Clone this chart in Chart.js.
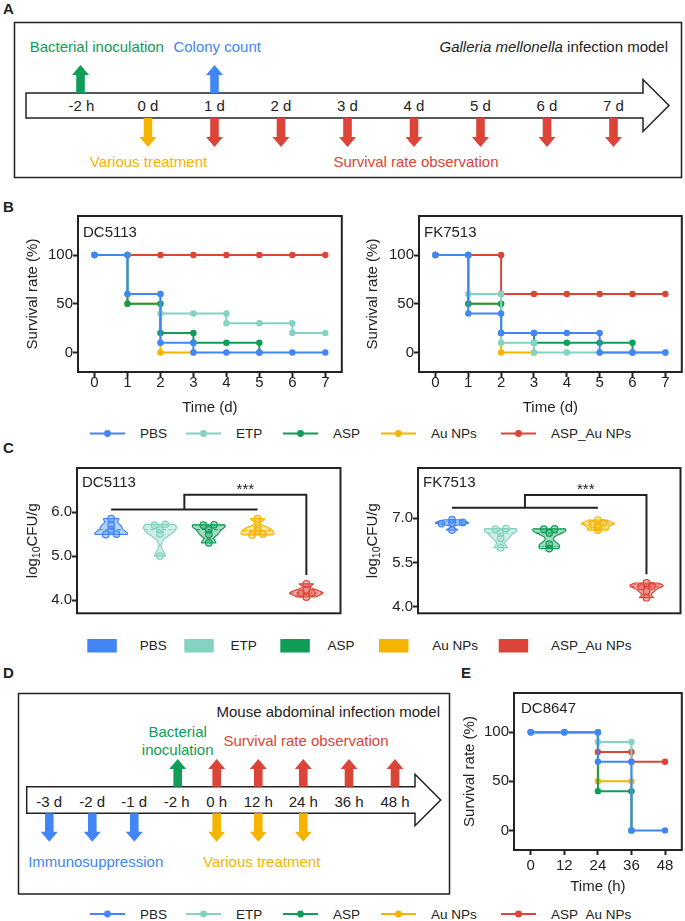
<!DOCTYPE html>
<html>
<head>
<meta charset="utf-8">
<title>Galleria / mouse infection figure</title>
<script src="https://cdn.jsdelivr.net/npm/chart.js@4.4.1/dist/chart.umd.min.js"></script>
<style>
  html, body { margin: 0; padding: 0; background: #fff; }
  #page { position: relative; width: 685px; height: 921px; overflow: hidden; font-family: "Liberation Sans", Arial, sans-serif; }
  #page svg, #page canvas { position: absolute; }
</style>
</head>
<body>
<div id="page">
  <svg id="art" width="685" height="921" style="left:0;top:0"></svg>
  <canvas id="survDC" width="345" height="225" style="left:0;top:200px"></canvas>
  <canvas id="survFK" width="345" height="225" style="left:340px;top:200px"></canvas>
  <canvas id="cfuDC" width="345" height="175" style="left:0;top:455px"></canvas>
  <canvas id="cfuFK" width="345" height="175" style="left:340px;top:455px"></canvas>
  <canvas id="survMouse" width="225" height="220" style="left:460px;top:680px"></canvas>
</div>
<script>
// ===============================
// DATA
// ===============================
const groups = ["PBS", "ETP", "ASP", "Au NPs", "ASP_Au NPs"];
const groupColors = ["#4285F4", "#84D2C1", "#0F9D58", "#F4B400", "#DB4437"];

// B: Galleria survival (%), value after each day's deaths
const days = [0, 1, 2, 3, 4, 5, 6, 7];
const dcSurvPBS   = [100, 60, 10, 0, 0, 0, 0, 0];
const dcSurvETP   = [100, 60, 40, 40, 30, 30, 20, 20];
const dcSurvASP   = [100, 50, 20, 10, 10, 0, null, null];
const dcSurvAu    = [100, 50, 0, 0, null, null, null, null];
const dcSurvAspAu = [100, 100, 100, 100, 100, 100, 100, 100];

const fkSurvPBS   = [100, 40, 20, 20, 20, 0, 0, 0];
const fkSurvETP   = [100, 60, 10, 0, 0, 0, 0, 0];
const fkSurvASP   = [100, 50, 20, 10, 10, 10, 0, null];
const fkSurvAu    = [100, 50, 0, 0, null, null, null, null];
const fkSurvAspAu = [100, 100, 60, 60, 60, 60, 60, 60];

const survTicks = [0, 50, 100];

// C: bacterial load, log10 CFU/g, five larvae per group
const dcCfuPBS   = [5.49, 5.5, 5.6, 5.7, 5.85];
const dcCfuETP   = [5.0, 5.5, 5.6, 5.7, 5.72];
const dcCfuASP   = [5.3, 5.49, 5.6, 5.7, 5.71];
const dcCfuAu    = [5.48, 5.5, 5.58, 5.64, 5.85];
const dcCfuAspAu = [4.07, 4.15, 4.16, 4.23, 4.37];
const dcCfuTicks = [4, 5, 6];

const fkCfuPBS   = [6.6, 6.82, 6.85, 6.86, 6.95];
const fkCfuETP   = [6.0, 6.32, 6.5, 6.63, 6.65];
const fkCfuASP   = [5.97, 6.12, 6.5, 6.63, 6.64];
const fkCfuAu    = [6.6, 6.7, 6.8, 6.84, 6.94];
const fkCfuAspAu = [4.3, 4.52, 4.68, 4.7, 4.8];
const fkCfuTicks = [4, 5.5, 7];

// significance bars: groups 1-4 vs group 5
const dcSig = { from: 1, to: 4, vs: 5, low: 6.06, high: 6.39, end: 4.57, text: "***" };
const fkSig = { from: 1, to: 4, vs: 5, low: 7.36, high: 7.79, end: 5.1, text: "***" };

// E: mouse survival (%)
const hours = [0, 12, 24, 36, 48];
const mSurvPBS   = [100, 100, 70, 0, 0];
const mSurvETP   = [100, 100, 90, 0, null];
const mSurvASP   = [100, 100, 40, 0, null];
const mSurvAu    = [100, 100, 50, 0, null];
const mSurvAspAu = [100, 100, 80, 70, 70];

// timelines
const galleriaTimes = ["-2 h", "0 d", "1 d", "2 d", "3 d", "4 d", "5 d", "6 d", "7 d"];
const mouseTimes = ["-3 d", "-2 d", "-1 d", "-2 h", "0 h", "12 h", "24 h", "36 h", "48 h"];

// ===============================
// HELPERS
// ===============================
const ink = "#222";
const fontFamily = '"Liberation Sans", Arial, sans-serif';
Chart.defaults.font.family = fontFamily;

function hexA(hex, a) {
  const n = parseInt(hex.slice(1), 16);
  return `rgba(${n >> 16}, ${(n >> 8) & 255}, ${n & 255}, ${a})`;
}

// Kaplan-Meier steps: a drop gets a point before and after
function kmPoints(times, surv) {
  const pts = [];
  surv.forEach((v, i) => {
    if (v === null) return;
    if (i > 0 && surv[i - 1] !== null && surv[i - 1] !== v) pts.push({ x: times[i], y: surv[i - 1] });
    pts.push({ x: times[i], y: v });
  });
  return pts;
}

// spread near-identical values sideways
function spreadPoints(vals, cx, thresh) {
  const sorted = [...vals].sort((a, b) => a - b);
  const clusters = [];
  sorted.forEach(v => {
    const last = clusters[clusters.length - 1];
    if (last && v - last[last.length - 1] < thresh) last.push(v);
    else clusters.push([v]);
  });
  const pts = [];
  clusters.forEach(c => c.forEach((v, j) => pts.push({ x: cx + (j - (c.length - 1) / 2) * 0.22, y: v })));
  return pts;
}

function quantile(sorted, p) {
  const pos = (sorted.length + 1) * p - 1;
  const lo = Math.floor(pos), hi = Math.ceil(pos);
  return sorted[Math.max(0, lo)] + (sorted[Math.min(sorted.length - 1, hi)] - sorted[Math.max(0, lo)]) * (pos - lo);
}

function kde(sorted, h, v) {
  return sorted.reduce((s, p) => s + Math.exp(-0.5 * ((v - p) / h) ** 2), 0);
}

const framePlugin = {
  id: "frame",
  afterDraw(chart) {
    const { ctx, chartArea: a } = chart;
    ctx.save();
    ctx.strokeStyle = ink;
    ctx.lineWidth = 2;
    ctx.strokeRect(a.left, a.top, a.right - a.left, a.bottom - a.top);
    ctx.restore();
  }
};

function cornerLabel(text, dx, dy) {
  return {
    id: "cornerLabel",
    afterDraw(chart) {
      const { ctx, chartArea: a } = chart;
      ctx.save();
      ctx.font = `15px ${fontFamily}`;
      ctx.fillStyle = ink;
      ctx.textBaseline = "middle";
      ctx.fillText(text, a.left + dx, a.top + dy);
      ctx.restore();
    }
  };
}

function tickGrid() {
  return { drawOnChartArea: false, tickLength: 5, tickWidth: 2, tickColor: ink };
}

// ===============================
// SURVIVAL CHARTS (B, E)
// ===============================
function drawSurvival(canvasId, times, series, xTicks, xMin, xMax, xTitle, strain, box) {
  const datasets = series.map((surv, i) => ({
    label: groups[i],
    data: kmPoints(times, surv),
    showLine: true,
    borderColor: groupColors[i],
    backgroundColor: groupColors[i],
    borderWidth: 2,
    pointRadius: 3.2,
    pointHoverRadius: 3.2,
    pointBorderWidth: 0
  }));

  new Chart(document.getElementById(canvasId), {
    type: "scatter",
    data: { datasets },
    options: {
      responsive: false,
      animation: false,
      devicePixelRatio: 1,
      layout: { padding: { top: box.top, right: box.right, left: 0, bottom: 0 } },
      plugins: { legend: { display: false }, tooltip: { enabled: false } },
      scales: {
        x: {
          type: "linear", min: xMin, max: xMax,
          afterBuildTicks: s => { s.ticks = xTicks.map(v => ({ value: v })); },
          afterFit: s => { s.height = box.xh; },
          grid: tickGrid(),
          border: { display: false },
          ticks: { color: ink, font: { size: 15 }, padding: box.xpad, maxRotation: 0, autoSkip: false },
          title: { display: true, text: xTitle, color: ink, font: { size: 15 }, padding: { top: 0, bottom: box.xtpad } }
        },
        y: {
          type: "linear", min: -20, max: 140,
          afterBuildTicks: s => { s.ticks = survTicks.map(v => ({ value: v })); },
          afterFit: s => { s.width = box.yw; },
          grid: tickGrid(),
          border: { display: false },
          ticks: { color: ink, font: { size: 15 }, padding: 0 },
          title: { display: true, text: "Survival rate (%)", color: ink, font: { size: 15 }, padding: { top: box.ytpad, bottom: 0 } }
        }
      }
    },
    plugins: [framePlugin, cornerLabel(strain, box.lx, box.ly)]
  });
}

// ===============================
// VIOLIN CHARTS (C)
// ===============================
function violinPlugin(sets) {
  return {
    id: "violin",
    beforeDatasetsDraw(chart) {
      const { ctx, scales: { x, y } } = chart;
      const half = 16.5;
      sets.forEach((vals, i) => {
        const color = groupColors[i];
        const cx = x.getPixelForValue(i + 1);
        const s = [...vals].sort((a, b) => a - b);
        const n = s.length;
        const mean = s.reduce((a, b) => a + b, 0) / n;
        const sd = Math.sqrt(s.reduce((a, b) => a + (b - mean) ** 2, 0) / (n - 1));
        const iqr = quantile(s, 0.75) - quantile(s, 0.25);
        const spread = Math.min(sd, iqr > 0 ? iqr / 1.34 : sd);
        const h = Math.max(0.6 * 0.9 * spread * Math.pow(n, -0.2), 0.02);
        const lo = s[0], hi = s[n - 1];
        const steps = 40;
        const prof = [];
        for (let k = 0; k <= steps; k++) {
          const v = lo + (hi - lo) * k / steps;
          prof.push([v, kde(s, h, v)]);
        }
        const maxD = Math.max(...prof.map(p => p[1]));
        const w = v => kde(s, h, v) / maxD * half;

        ctx.save();
        ctx.beginPath();
        prof.forEach(([v, d], k) => {
          const px = cx + d / maxD * half, py = y.getPixelForValue(v);
          if (k) ctx.lineTo(px, py); else ctx.moveTo(px, py);
        });
        for (let k = steps; k >= 0; k--) {
          const [v, d] = prof[k];
          ctx.lineTo(cx - d / maxD * half, y.getPixelForValue(v));
        }
        ctx.closePath();
        ctx.fillStyle = hexA(color, 0.38);
        ctx.fill();
        ctx.strokeStyle = color;
        ctx.lineWidth = 1.2;
        ctx.stroke();

        // median dashed, quartiles dotted
        [[0.5, [4, 2]], [0.25, [1.5, 1.5]], [0.75, [1.5, 1.5]]].forEach(([p, dash]) => {
          const v = quantile(s, p);
          const py = y.getPixelForValue(v);
          const ww = w(v);
          ctx.setLineDash(dash);
          ctx.lineWidth = 1;
          ctx.beginPath();
          ctx.moveTo(cx - ww, py);
          ctx.lineTo(cx + ww, py);
          ctx.stroke();
        });
        ctx.restore();
      });
    }
  };
}

function sigTextPlugin(sig) {
  return {
    id: "sigText",
    afterDatasetsDraw(chart) {
      const { ctx, scales: { x, y } } = chart;
      const mid = (sig.from + sig.to) / 2;
      ctx.save();
      ctx.font = `15px ${fontFamily}`;
      ctx.fillStyle = ink;
      ctx.textAlign = "center";
      ctx.textBaseline = "alphabetic";
      ctx.fillText(sig.text, x.getPixelForValue((mid + sig.vs) / 2), y.getPixelForValue(sig.high) - 1);
      ctx.restore();
    }
  };
}

const cfuTitlePlugin = {
  id: "cfuTitle",
  afterDraw(chart) {
    const { ctx, chartArea: a } = chart;
    const big = `15px ${fontFamily}`, small = `10.5px ${fontFamily}`;
    ctx.save();
    ctx.translate(33, (a.top + a.bottom) / 2);
    ctx.rotate(-Math.PI / 2);
    ctx.fillStyle = ink;
    ctx.textBaseline = "middle";
    ctx.font = big;
    const w1 = ctx.measureText("log").width, w3 = ctx.measureText("CFU/g").width;
    ctx.font = small;
    const w2 = ctx.measureText("10").width;
    const x0 = -(w1 + w2 + w3) / 2;
    ctx.font = big;
    ctx.fillText("log", x0, 0);
    ctx.font = small;
    ctx.fillText("10", x0 + w1, 4);
    ctx.font = big;
    ctx.fillText("CFU/g", x0 + w1 + w2, 0);
    ctx.restore();
  }
};

function drawCfu(canvasId, sets, yTicks, yMin, yMax, strain, sig, box) {
  const pxPerY = 145 / (yMax - yMin);
  const datasets = sets.map((vals, i) => ({
    label: groups[i],
    data: spreadPoints(vals, i + 1, 1.5 / pxPerY),
    pointRadius: 3.3,
    pointHoverRadius: 3.3,
    pointBorderWidth: 1.2,
    borderColor: groupColors[i],
    backgroundColor: hexA(groupColors[i], 0.35)
  }));
  const mid = (sig.from + sig.to) / 2;
  const bar = { showLine: true, borderColor: ink, borderWidth: 2, pointRadius: 0, pointHoverRadius: 0 };
  datasets.push(Object.assign({ data: [{ x: sig.from, y: sig.low }, { x: sig.to, y: sig.low }] }, bar));
  datasets.push(Object.assign({
    data: [{ x: mid, y: sig.low }, { x: mid, y: sig.high }, { x: sig.vs, y: sig.high }, { x: sig.vs, y: sig.end }]
  }, bar));

  new Chart(document.getElementById(canvasId), {
    type: "scatter",
    data: { datasets },
    options: {
      responsive: false,
      animation: false,
      devicePixelRatio: 1,
      layout: { padding: { top: box.top, right: box.right, left: 0, bottom: box.bottom } },
      plugins: { legend: { display: false }, tooltip: { enabled: false } },
      scales: {
        x: { type: "linear", min: 0.3, max: 5.7, display: false },
        y: {
          type: "linear", min: yMin, max: yMax,
          afterBuildTicks: s => { s.ticks = yTicks.map(v => ({ value: v })); },
          afterFit: s => { s.width = box.yw; },
          grid: tickGrid(),
          border: { display: false },
          ticks: { color: ink, font: { size: 15 }, padding: 0, callback: v => v.toFixed(1) }
        }
      }
    },
    plugins: [violinPlugin(sets), sigTextPlugin(sig), framePlugin, cfuTitlePlugin, cornerLabel(strain, box.lx, box.ly)]
  });
}

// ===============================
// DIAGRAMS AND LEGENDS (SVG)
// ===============================
const art = document.getElementById("art");
const svgNS = "http://www.w3.org/2000/svg";

function svgEl(tag, attrs, parent) {
  const el = document.createElementNS(svgNS, tag);
  Object.entries(attrs).forEach(([k, v]) => el.setAttribute(k, v));
  (parent || art).appendChild(el);
  return el;
}

function text(x, y, str, opts = {}) {
  const el = svgEl("text", {
    x, y,
    "font-size": opts.size || 15,
    "font-family": fontFamily,
    "font-weight": opts.bold ? "bold" : "normal",
    fill: opts.color || ink,
    "text-anchor": opts.anchor || "start",
    "dominant-baseline": "central"
  });
  el.textContent = str;
  return el;
}

function arrow(cx, base, tip, color) {
  const dir = Math.sign(tip - base);
  const neck = tip - dir * 10;
  const pts = [
    [cx - 4.3, base], [cx - 4.3, neck], [cx - 8.5, neck], [cx, tip],
    [cx + 8.5, neck], [cx + 4.3, neck], [cx + 4.3, base]
  ];
  svgEl("polygon", { points: pts.map(p => p.join(",")).join(" "), fill: color });
}

function timeline(x0, x1, yTop, yBot, headX, tipX, headHalf) {
  const yc = (yTop + yBot) / 2;
  const pts = [[x0, yTop], [headX, yTop], [headX, yc - headHalf], [tipX, yc], [headX, yc + headHalf], [headX, yBot], [x0, yBot]];
  svgEl("polygon", { points: pts.map(p => p.join(",")).join(" "), fill: "#fff", stroke: ink, "stroke-width": 1.5 });
}

const [cBlue, cTeal, cGreen, cYellow, cRed] = groupColors;

// panel letters
text(3, 8.5, "A", { bold: true });
text(3, 206, "B", { bold: true });
text(3, 447, "C", { bold: true });
text(3, 672, "D", { bold: true });
text(461, 672, "E", { bold: true });

// --- A: Galleria timeline
svgEl("rect", { x: 14.5, y: 22.5, width: 667, height: 155, fill: "none", stroke: ink, "stroke-width": 1.5 });
text(29.7, 46, "Bacterial inoculation", { color: cGreen });
text(173.4, 46, "Colony count", { color: cBlue });
const gm = text(668, 46, "", { anchor: "end" });
const gmI = svgEl("tspan", { "font-style": "italic" }, gm);
gmI.textContent = "Galleria mellonella";
const gmR = svgEl("tspan", {}, gm);
gmR.textContent = " infection model";
timeline(26, 643, 93, 118, 643, 669, 26);
const aX = galleriaTimes.map((_, i) => 81.5 + i * 66.5);
galleriaTimes.forEach((t, i) => text(aX[i], 105.5, t, { anchor: "middle" }));
arrow(aX[0] - 1, 93, 65, cGreen);
arrow(aX[2], 93, 65, cBlue);
arrow(aX[1], 118, 147, cYellow);
for (let i = 2; i < aX.length; i++) arrow(aX[i], 118, 147, cRed);
text(148.5, 161, "Various treatment", { color: cYellow, anchor: "middle" });
text(416, 161, "Survival rate observation", { color: cRed, anchor: "middle" });

// --- D: mouse timeline
svgEl("rect", { x: 18.5, y: 693.5, width: 431, height: 200.5, fill: "none", stroke: ink, "stroke-width": 1.5 });
text(440, 711, "Mouse abdominal infection model", { anchor: "end" });
text(177.7, 731.7, "Bacterial", { color: cGreen, anchor: "middle" });
text(177.7, 749.3, "inoculation", { color: cGreen, anchor: "middle" });
text(306, 740.7, "Survival rate observation", { color: cRed, anchor: "middle" });
timeline(26.7, 415, 786.7, 813.3, 415, 440.7, 25.7);
const dX = [49.3, 92.3, 134.3, 176.7, 216.7, 258.3, 303.3, 349, 395];
mouseTimes.forEach((t, i) => text(dX[i], 801.7, t, { anchor: "middle" }));
arrow(dX[3] + 1, 786.7, 759, cGreen);
for (let i = 4; i < 9; i++) arrow(dX[i], 786.7, 759, cRed);
for (let i = 0; i < 3; i++) arrow(dX[i], 813.3, 841.7, cBlue);
for (let i = 4; i < 7; i++) arrow(dX[i], 813.3, 841.7, cYellow);
text(95.7, 861, "Immunosuppression", { color: cBlue, anchor: "middle" });
text(261.7, 861, "Various treatment", { color: cYellow, anchor: "middle" });

// --- legends
const lineLegendX = [90, 186, 283, 381, 501];
function lineLegend(y) {
  groups.forEach((g, i) => {
    const x = lineLegendX[i];
    svgEl("line", { x1: x, y1: y, x2: x + 35, y2: y, stroke: groupColors[i], "stroke-width": 2 });
    svgEl("circle", { cx: x + 17.5, cy: y, r: 3.4, fill: groupColors[i] });
    text(x + 50, y, g, { size: 13.5 });
  });
}
lineLegend(433.5);
lineLegend(914);

const boxLegendX = [87.3, 184.3, 280.3, 379, 498.7];
const boxLegendTextX = [139.7, 230.6, 327.5, 432.3, 551.1];
groups.forEach((g, i) => {
  svgEl("rect", { x: boxLegendX[i], y: 639, width: 29.5, height: 13.5, fill: groupColors[i] });
  text(boxLegendTextX[i], 645.7, g, { size: 13.5 });
});

// ===============================
// CHARTS
// ===============================
drawSurvival("survDC", days, [dcSurvPBS, dcSurvETP, dcSurvASP, dcSurvAu, dcSurvAspAu],
  days, -0.5, 7.5, "Time (d)", "DC5113",
  { top: 16, right: 3, yw: 78, xh: 53, xpad: -3, xtpad: 8, ytpad: 24, lx: 5, ly: 17 });
drawSurvival("survFK", days, [fkSurvPBS, fkSurvETP, fkSurvASP, fkSurvAu, fkSurvAspAu],
  days, -0.5, 7.5, "Time (d)", "FK7513",
  { top: 16, right: 3, yw: 79, xh: 53, xpad: -3, xtpad: 8, ytpad: 24, lx: 5, ly: 17 });

drawCfu("cfuDC", [dcCfuPBS, dcCfuETP, dcCfuASP, dcCfuAu, dcCfuAspAu], dcCfuTicks, 3.7, 7.0, "DC5113", dcSig,
  { top: 13, right: 3, bottom: 16.7, yw: 77, lx: 5, ly: 15 });
drawCfu("cfuFK", [fkCfuPBS, fkCfuETP, fkCfuASP, fkCfuAu, fkCfuAspAu], fkCfuTicks, 3.77, 8.71, "FK7513", fkSig,
  { top: 13, right: 3, bottom: 16.7, yw: 78, lx: 5, ly: 15 });

drawSurvival("survMouse", hours, [mSurvPBS, mSurvETP, mSurvASP, mSurvAu, mSurvAspAu],
  hours, -6, 54, "Time (h)", "DC8647",
  { top: 13, right: 3, yw: 54, xh: 50, xpad: 2, xtpad: 4, ytpad: 1, lx: 7, ly: 16 });
</script>
</body>
</html>
